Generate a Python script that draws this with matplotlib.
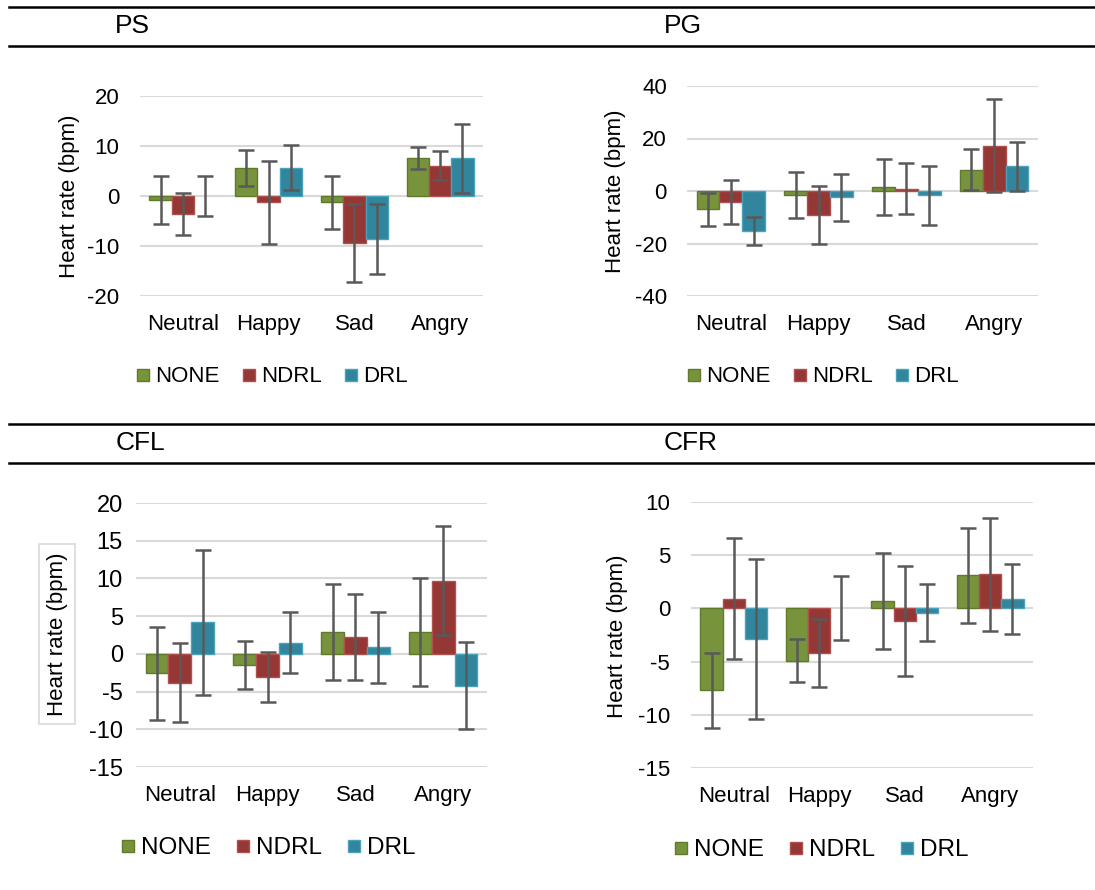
import numpy as np
import matplotlib
matplotlib.use("Agg")
import matplotlib.pyplot as plt
from matplotlib.lines import Line2D

plt.rcParams['font.family'] = ['Liberation Sans', 'DejaVu Sans']
plt.rcParams['axes.unicode_minus'] = False

# heart rate change (bpm) per emotion, mean and error for each condition
emotions = ["Neutral", "Happy", "Sad", "Angry"]
conditions = ["NONE", "NDRL", "DRL"]

ps_none = [-0.8, 5.7, -1.2, 7.6]
ps_ndrl = [-3.5, -1.2, -9.3, 6.1]
ps_drl = [0.0, 5.7, -8.6, 7.6]
ps_none_err = [4.8, 3.6, 5.3, 2.2]
ps_ndrl_err = [4.2, 8.3, 7.8, 2.9]
ps_drl_err = [4.0, 4.5, 7.0, 6.9]

pg_none = [-6.9, -1.5, 1.6, 8.1]
pg_ndrl = [-4.3, -9.1, 0.9, 17.3]
pg_drl = [-15.1, -2.4, -1.7, 9.4]
pg_none_err = [6.3, 8.8, 10.6, 7.9]
pg_ndrl_err = [8.4, 10.9, 9.8, 17.6]
pg_drl_err = [5.3, 9.0, 11.4, 9.4]

cfl_none = [-2.6, -1.5, 2.9, 2.9]
cfl_ndrl = [-3.8, -3.1, 2.2, 9.7]
cfl_drl = [4.2, 1.5, 0.9, -4.2]
cfl_none_err = [6.2, 3.2, 6.3, 7.1]
cfl_ndrl_err = [5.3, 3.3, 5.7, 7.2]
cfl_drl_err = [9.6, 4.1, 4.7, 5.8]

cfr_none = [-7.7, -4.9, 0.7, 3.1]
cfr_ndrl = [0.9, -4.2, -1.2, 3.2]
cfr_drl = [-2.9, 0.0, -0.4, 0.9]
cfr_none_err = [3.5, 2.0, 4.5, 4.5]
cfr_ndrl_err = [5.7, 3.2, 5.2, 5.3]
cfr_drl_err = [7.5, 3.0, 2.7, 3.3]

fills = ["#77933C", "#953735", "#31859C"]
edges = ["#5E7A2A", "#B0504E", "#4AA3BC"]

W, H = 1095, 890
fig = plt.figure(figsize=(W / 100, H / 100), dpi=100)


def px_axes(x0, x1, y0, y1):
    # pixel box (top-left origin) -> figure axes
    return fig.add_axes([x0 / W, 1 - y1 / H, (x1 - x0) / W, (y1 - y0) / H])


def draw_panel(ax, means, errs, ylim, step, tick_size=16, ypad=14):
    x = np.arange(len(emotions))
    width = 0.26
    for i, (m, e) in enumerate(zip(means, errs)):
        pos = x + (i - 1) * width
        lw = [0 if v == 0 else 1.0 for v in m]
        ax.bar(pos, m, width, color=fills[i], edgecolor=edges[i],
               linewidth=lw, zorder=2)
        ax.errorbar(pos, m, yerr=e, fmt='none', ecolor='#595959',
                    elinewidth=1.8, capsize=5.5, capthick=1.8, zorder=3)
    ax.set_xlim(-0.5, len(emotions) - 0.5)
    ax.set_ylim(*ylim)
    ax.set_yticks(np.arange(ylim[0], ylim[1] + step / 2, step))
    ax.set_xticks(x)
    ax.set_xticklabels(emotions)
    ax.yaxis.grid(True, color='#D9D9D9', linewidth=1.5)
    ax.set_axisbelow(True)
    for s in ax.spines.values():
        s.set_visible(False)
    ax.tick_params(axis='x', length=0, pad=13, labelsize=16)
    ax.tick_params(axis='y', length=0, pad=ypad, labelsize=tick_size)


ax_ps = px_axes(140, 483, 96, 296)
draw_panel(ax_ps, [ps_none, ps_ndrl, ps_drl],
           [ps_none_err, ps_ndrl_err, ps_drl_err], (-20, 20), 10, ypad=15)

ax_pg = px_axes(687, 1038, 86, 296)
draw_panel(ax_pg, [pg_none, pg_ndrl, pg_drl],
           [pg_none_err, pg_ndrl_err, pg_drl_err], (-40, 40), 20, ypad=14.5)

ax_cfl = px_axes(136, 487, 503, 767)
draw_panel(ax_cfl, [cfl_none, cfl_ndrl, cfl_drl],
           [cfl_none_err, cfl_ndrl_err, cfl_drl_err], (-15, 20), 5,
           tick_size=17, ypad=9.5)

ax_cfr = px_axes(691, 1033, 502, 768)
draw_panel(ax_cfr, [cfr_none, cfr_ndrl, cfr_drl],
           [cfr_none_err, cfr_ndrl_err, cfr_drl_err], (-15, 10), 5, ypad=15)

# y labels
fig.text(69 / W, 1 - 196 / H, "Heart rate (bpm)", rotation=90,
         ha='center', va='center', fontsize=16)
fig.text(615 / W, 1 - 191 / H, "Heart rate (bpm)", rotation=90,
         ha='center', va='center', fontsize=16)
fig.text(57 / W, 1 - 634 / H, "Heart rate (bpm)", rotation=90,
         ha='center', va='center', fontsize=16,
         bbox=dict(boxstyle='square,pad=0.35', fc='none', ec='#D9D9D9', lw=1.2))
fig.text(618 / W, 1 - 636 / H, "Heart rate (bpm)", rotation=90,
         ha='center', va='center', fontsize=16)

# panel titles and rules
for label, cx, cy in [("PS", 132, 26), ("PG", 683, 26),
                      ("CFL", 140, 443), ("CFR", 691, 443)]:
    fig.text(cx / W, 1 - cy / H, label, ha='center', va='center', fontsize=19)

for y in [7, 45.5, 424, 462.5]:
    fig.add_artist(Line2D([8.7 / W, 1], [1 - y / H, 1 - y / H],
                          color='black', linewidth=1.8))

# legends with square swatches
handles = [Line2D([], [], linestyle='none', marker='s', markersize=9.2,
                  markerfacecolor=fills[i], markeredgecolor=edges[i],
                  markeredgewidth=1.0)
           for i in range(3)]
for cx, cy, fs in [(272, 377, 16), (823, 377, 16), (268, 848, 17.5), (821, 850, 17.5)]:
    fig.legend(handles, conditions, loc='center',
               bbox_to_anchor=(cx / W, 1 - cy / H), ncol=3, frameon=False,
               fontsize=fs, handlelength=0.6, handleheight=0.6,
               handletextpad=0.25, columnspacing=1.0, borderpad=0)

fig.savefig("out.png", dpi=100)
